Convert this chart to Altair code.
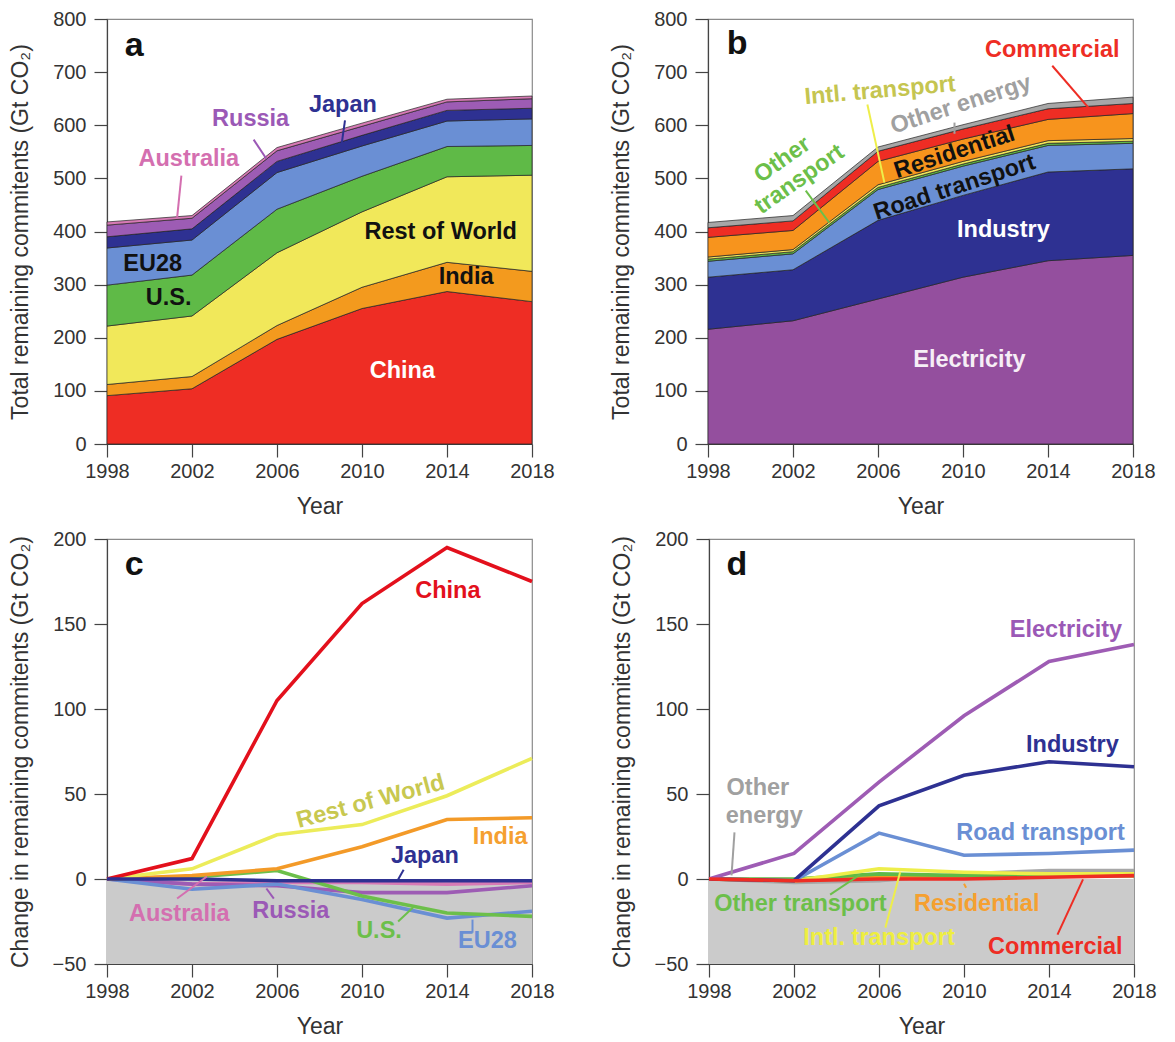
import altair as alt
import pandas as pd

FONT = "Liberation Sans"

years = [1998, 2002, 2006, 2010, 2014, 2018]

# ---------------- Panel a: remaining commitments by country (Gt CO2), stacked bottom->top
countries = ["China", "India", "Rest of World", "U.S.", "EU28", "Japan", "Russia", "Australia"]
china_total = [91, 104, 197, 255, 287, 268]
india_total = [21, 23, 26, 40, 55, 57]
row_total = [110, 114, 137, 142, 161, 181]
us_total = [77, 77, 82, 67, 57, 56]
eu28_total = [70, 66, 69, 57, 48, 50]
japan_total = [21, 21, 21, 20, 20, 20]
russia_total = [22, 20, 20, 17, 16, 18]
australia_total = [6, 5, 6, 6, 5, 5]
country_area_colors = ["#ee2d24", "#f39a1e", "#f1e85a", "#5fba47", "#6a8fd4", "#2e3192", "#9d5cb4", "#d77ab5"]

# ---------------- Panel b: remaining commitments by sector (Gt CO2), stacked bottom->top
sectors = ["Electricity", "Industry", "Road transport", "Other transport", "Intl. transport",
           "Residential", "Commercial", "Other energy"]
electricity_total = [216, 232, 273, 314, 345, 355]
industry_total = [98, 96, 148, 154, 167, 163]
road_total = [30, 30, 58, 55, 50, 48]
other_transport_total = [4, 4, 4, 4, 4, 4]
intl_transport_total = [4, 4, 5, 5, 5, 5]
residential_total = [37, 36, 44, 42, 40, 47]
commercial_total = [18, 18, 19, 19, 20, 19]
other_energy_total = [10, 10, 8, 8, 10, 12]
sector_area_colors = ["#944f9e", "#2e3192", "#6a8fd4", "#5fba47", "#f1e85a", "#f7941d", "#ee2d24", "#a7a7a7"]

# ---------------- Panel c: change in remaining commitments by country (Gt CO2)
china_change = [0, 12, 105, 162, 195, 175]
row_change = [0, 6, 26, 32, 49, 71]
india_change = [0, 2, 6, 19, 35, 36]
us_change = [0, 1, 5, -10, -20, -22]
eu28_change = [0, -6, -3, -12, -23, -19]
australia_change = [0, -3, -2, -2, -3, -2]
russia_change = [0, -3, -4, -8, -8, -4]
japan_change = [0, 0, -1, -1, -1, -1]
country_line_colors = {"China": "#e3101c", "Rest of World": "#ecec5a", "India": "#f39a28",
                       "U.S.": "#6cbf4a", "EU28": "#6a8fd4", "Australia": "#d77ab5",
                       "Russia": "#9d5cb4", "Japan": "#2e3192"}

# ---------------- Panel d: change in remaining commitments by sector (Gt CO2)
electricity_change = [0, 15, 57, 96, 128, 138]
industry_change = [0, -1, 43, 61, 69, 66]
road_change = [0, -1, 27, 14, 15, 17]
other_transport_change = [0, 0, 3, 2, 2, 2]
intl_transport_change = [0, -1, 6, 4, 3, 3]
residential_change = [0, -1, 1, 1, 2, 2]
commercial_change = [0, -1, 0, 0, 1, 2]
other_energy_change = [0, -2, -1, 3, 5, 5]
sector_line_colors = {"Other energy": "#a7a7a7", "Residential": "#f7941d", "Other transport": "#5fba47",
                      "Intl. transport": "#eeee4a", "Commercial": "#ee2d24", "Road transport": "#6a8fd4",
                      "Industry": "#2e3192", "Electricity": "#9e5cb4"}

# ---------------- Annotation labels: (text, year, value, color, angle)
labels_a = [
    ("China", 2011.9, 138, "#ffffff", 0), ("India", 2014.9, 315, "#111111", 0),
    ("Rest of World", 2013.7, 400, "#111111", 0), ("U.S.", 2000.9, 274, "#111111", 0),
    ("EU28", 2000.15, 338, "#111111", 0), ("Australia", 2001.85, 536, "#d46fb0", 0),
    ("Russia", 2004.76, 611, "#9b59b6", 0), ("Japan", 2009.1, 639, "#2e3192", 0),
]
leaders_a = [  # (year, value, year2, value2, color)
    (2001.5, 505, 2001.3, 426, "#d46fb0"), (2004.9, 573, 2005.5, 537, "#9b59b6"),
    (2009.2, 609, 2009.05, 567, "#2e3192"),
]
labels_b = [
    ("Electricity", 2010.3, 159, "#f6eef6", 0), ("Industry", 2011.9, 402, "#ffffff", 0),
    ("Road transport", 2009.6, 483, "#111111", 342), ("Residential", 2009.6, 549, "#111111", 342),
    ("Other energy", 2009.9, 639, "#a0a0a0", 342), ("Intl. transport", 2006.1, 665, "#c5c550", 355),
    ("Other", 2001.5, 535, "#6cbf4a", 325), ("transport", 2002.3, 498, "#6cbf4a", 325),
    ("Commercial", 2014.2, 741, "#ee2d24", 0),
]
leaders_b = [
    (2009.6, 605, 2009.6, 584, "#a0a0a0"), (2005.5, 639, 2006.3, 492, "#eeee4a"),
    (2002.6, 477, 2003.7, 417, "#6cbf4a"), (2014.2, 712, 2015.9, 633, "#ee2d24"),
]
labels_c = [
    ("China", 2014.04, 169.6, "#e3101c", 0), ("Rest of World", 2010.4, 45.5, "#c8c850", 345),
    ("India", 2016.5, 24.6, "#f5a030", 0), ("Japan", 2012.96, 13.7, "#2e3192", 0),
    ("Australia", 2001.4, -20.4, "#d46fb0", 0), ("Russia", 2006.65, -18.9, "#9b59b6", 0),
    ("U.S.", 2010.8, -30.4, "#6cbf4a", 0), ("EU28", 2015.9, -36.6, "#6a8fd4", 0),
]
leaders_c = [
    (2011.96, 5.5, 2011.7, -0.3, "#2e3192"), (2001.3, -11.5, 2002.7, 1.5, "#d46fb0"),
    (2005.85, -11.5, 2005.5, -5.6, "#9b59b6"), (2011.7, -25, 2012.4, -16.8, "#6cbf4a"),
    (2015.2, -31.6, 2015.2, -23.9, "#6a8fd4"),
]
labels_d = [
    ("Electricity", 2014.8, 146.6, "#9b59b6", 0), ("Industry", 2015.1, 79, "#2e3192", 0),
    ("Road transport", 2013.6, 27.2, "#6a8fd4", 0), ("Other", 2000.3, 53.4, "#a0a0a0", 0),
    ("energy", 2000.6, 37, "#a0a0a0", 0), ("Other transport", 2002.3, -14.5, "#6cbf4a", 0),
    ("Residential", 2010.6, -14.5, "#f5a030", 0), ("Intl. transport", 2006.0, -34.5, "#eeee40", 0),
    ("Commercial", 2014.3, -39.8, "#ee2d24", 0),
]
leaders_d = [
    (1999.2, 27.4, 1999.06, 2.1, "#a0a0a0"), (2003.7, -9.2, 2005.1, 2.5, "#6cbf4a"),
    (2010.1, -5.1, 2010.0, -2.8, "#f5a030"), (2006.3, -28.6, 2007.0, 4.3, "#eeee4a"),
    (2014.4, -32.7, 2015.6, -0.2, "#ee2d24"),
]
panel_letters = {"a": (1998.83, 731), "b": (1998.88, 734), "c": (1998.84, 179), "d": (1998.82, 179)}

W = 425
H = 425
TITLE_TOTAL = "Total remaining commitents (Gt CO₂)"
TITLE_CHANGE = "Change in remaining commitents (Gt CO₂)"


def xenc(field="year"):
    return alt.X(f"{field}:Q",
                 scale=alt.Scale(domain=[1998, 2018], nice=False, zero=False),
                 axis=alt.Axis(values=years, format="d", title="Year", labelPadding=4,
                               titlePadding=14, labelFlush=False, labelOverlap=False))


def yaxis(ticks, title):
    return alt.Axis(values=ticks, title=title, labelPadding=8, titlePadding=20,
                    labelFlush=False, labelOverlap=False)


def yenc(domain, ticks, title, field="value"):
    return alt.Y(f"{field}:Q",
                 scale=alt.Scale(domain=domain, nice=False, zero=False),
                 axis=yaxis(ticks, title))


def annotations(labels, leaders, letter, domain, ticks, title):
    ldf = pd.DataFrame(labels, columns=["text", "year", "value", "color", "angle"])
    rdf = pd.DataFrame(leaders, columns=["year", "value", "year2", "value2", "color"])
    lx, ly = panel_letters[letter]
    pdf = pd.DataFrame({"text": [letter], "year": [lx], "value": [ly]})
    rules = alt.Chart(rdf).mark_rule(strokeWidth=2).encode(
        x=xenc(), x2="year2:Q", y=yenc(domain, ticks, title), y2="value2:Q",
        color=alt.Color("color:N", scale=None))
    texts = alt.Chart(ldf).mark_text(font=FONT, fontWeight="bold", fontSize=23.5,
                                     align="center", baseline="middle").encode(
        x=xenc(), y=yenc(domain, ticks, title), text="text:N",
        color=alt.Color("color:N", scale=None), angle=alt.Angle("angle:Q", scale=None))
    letter_mark = alt.Chart(pdf).mark_text(font=FONT, fontWeight="bold", fontSize=34,
                                           align="left", baseline="alphabetic",
                                           color="#111111").encode(
        x=xenc(), y=yenc(domain, ticks, title), text="text:N")
    return [rules, texts, letter_mark]


def stacked_panel(names, series, colors, labels, leaders, letter):
    rows = []
    for i, (name, vals, col) in enumerate(zip(names, series, colors)):
        for y, v in zip(years, vals):
            rows.append({"name": name, "rank": i, "year": y, "value": v, "fill": col})
    df = pd.DataFrame(rows)
    dom, ticks = [0, 800], list(range(0, 801, 100))
    area = alt.Chart(df).mark_area(stroke="#222222", strokeWidth=0.7, opacity=1).encode(
        x=xenc(),
        y=alt.Y("value:Q", stack="zero", scale=alt.Scale(domain=dom, nice=False, zero=False),
                axis=yaxis(ticks, TITLE_TOTAL)),
        detail="name:N",
        color=alt.Color("fill:N", scale=None),
        order=alt.Order("rank:Q", sort="ascending"),
    )
    return alt.layer(area, *annotations(labels, leaders, letter, dom, ticks, TITLE_TOTAL)).properties(
        width=W, height=H)


def change_panel(names, series, colors, labels, leaders, letter):
    dom, ticks = [-50, 200], list(range(-50, 201, 50))
    band = alt.Chart(pd.DataFrame({"year": [1998], "year2": [2018], "value": [0], "value2": [-50]})).mark_rect(
        color="#cbcbcb").encode(x=xenc(), x2="year2:Q", y=yenc(dom, ticks, TITLE_CHANGE), y2="value2:Q")
    layers = [band]
    for name, vals in zip(names, series):
        df = pd.DataFrame({"year": years, "value": vals})
        layers.append(alt.Chart(df).mark_line(strokeWidth=3.6, color=colors[name]).encode(
            x=xenc(), y=yenc(dom, ticks, TITLE_CHANGE)))
    layers += annotations(labels, leaders, letter, dom, ticks, TITLE_CHANGE)
    return alt.layer(*layers).properties(width=W, height=H)


panel_a = stacked_panel(countries,
                        [china_total, india_total, row_total, us_total, eu28_total,
                         japan_total, russia_total, australia_total],
                        country_area_colors, labels_a, leaders_a, "a")
panel_b = stacked_panel(sectors,
                        [electricity_total, industry_total, road_total, other_transport_total,
                         intl_transport_total, residential_total, commercial_total, other_energy_total],
                        sector_area_colors, labels_b, leaders_b, "b")
panel_c = change_panel(["Australia", "Russia", "EU28", "U.S.", "India", "Rest of World", "China", "Japan"],
                       [australia_change, russia_change, eu28_change, us_change, india_change,
                        row_change, china_change, japan_change],
                       country_line_colors, labels_c, leaders_c, "c")
panel_d = change_panel(["Other energy", "Residential", "Other transport", "Intl. transport",
                        "Road transport", "Industry", "Electricity", "Commercial"],
                       [other_energy_change, residential_change, other_transport_change,
                        intl_transport_change, road_change, industry_change, electricity_change,
                        commercial_change],
                       sector_line_colors, labels_d, leaders_d, "d")

chart = alt.vconcat(
    alt.hconcat(panel_a, panel_b, spacing=55),
    alt.hconcat(panel_c, panel_d, spacing=55),
    spacing=9,
).properties(padding={"left": 0, "top": 0, "right": 0, "bottom": 0}).configure(
    font=FONT,
).configure_view(
    stroke="#8a8a8a", strokeWidth=1.2,
).configure_axis(
    grid=False, domainColor="#444444", tickColor="#444444", tickSize=13, tickWidth=1.2,
    domainWidth=1.2, labelColor="#333333", titleColor="#333333", labelFontSize=20,
    titleFontSize=23, titleFontWeight="normal", labelFont=FONT, titleFont=FONT,
)

chart.save("out.html", embed_options={"renderer": "svg", "actions": False})
